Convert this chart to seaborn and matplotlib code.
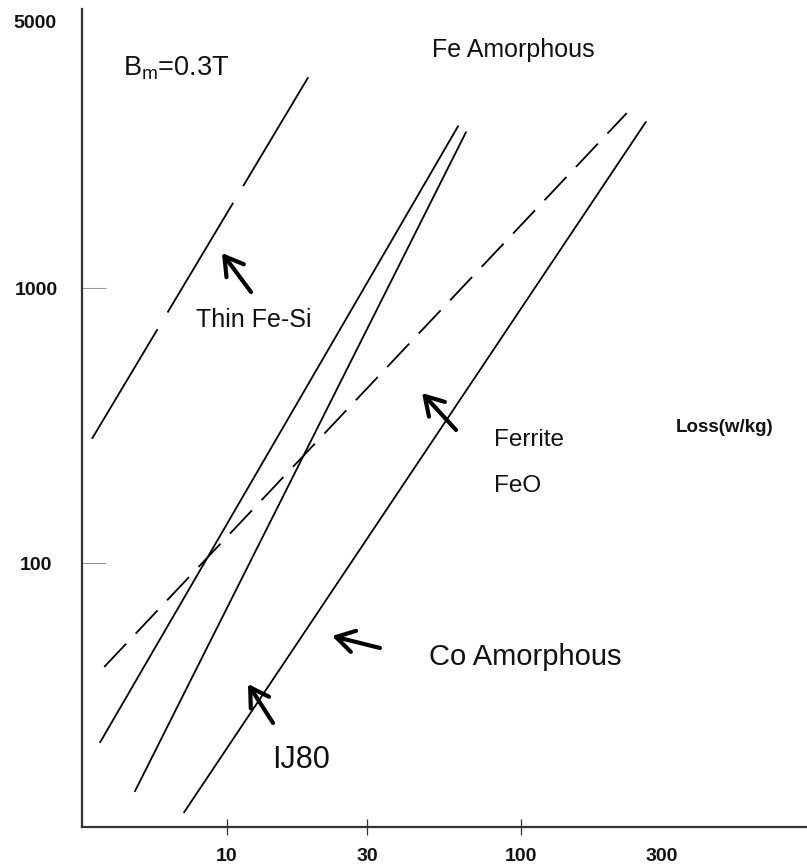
import matplotlib
matplotlib.use("Agg")
import matplotlib.pyplot as plt
import seaborn as sns
import pandas as pd

# ---------------- data ----------------
line_names = ["Thin Fe-Si", "Fe Amorphous", "IJ80", "Ferrite FeO", "Co Amorphous"]
x_start = [3.47, 3.70, 4.86, 3.82, 7.14]
x_end = [18.9, 61.1, 65.0, 229.0, 266.0]
y_start = [283.0, 22.3, 14.8, 41.9, 12.4]
y_end = [5850.0, 3880.0, 3690.0, 4330.0, 4020.0]

x_ticks = [10, 30, 100, 300]
x_tick_labels = ["10", "30", "100", "300"]
y_ticks = [100, 1000]
y_tick_labels = ["100", "1000"]

# ---------------- style ----------------
sns.set_theme(style="white")
plt.rcParams["font.family"] = ["Liberation Sans", "DejaVu Sans"]
plt.rcParams["mathtext.fontset"] = "custom"
plt.rcParams["mathtext.rm"] = "Liberation Sans"
plt.rcParams["mathtext.it"] = "Liberation Sans:italic"
plt.rcParams["lines.scale_dashes"] = False

W, H = 807, 868
fig = plt.figure(figsize=(W / 100, H / 100), dpi=100)
ax = fig.add_axes([82 / W, 1 - 827 / H, 1 - 82 / W, (827 - 9) / H])

rows = []
for n, x0, x1, y0, y1 in zip(line_names, x_start, x_end, y_start, y_end):
    rows.append({"name": n, "x": x0, "y": y0})
    rows.append({"name": n, "x": x1, "y": y1})
df = pd.DataFrame(rows)

styles = {
    "Thin Fe-Si": (0, (92, 14)),
    "Fe Amorphous": "-",
    "IJ80": "-",
    "Ferrite FeO": (0, (23, 10)),
    "Co Amorphous": "-",
}
for n in line_names:
    sub = df[df["name"] == n]
    sns.lineplot(data=sub, x="x", y="y", ax=ax, color="black", lw=1.3,
                 linestyle=styles[n], sort=True, legend=False)

ax.set_xscale("log")
ax.set_yscale("log")
ax.set_xlim(3.21, 940)
ax.set_ylim(10.97, 10350)
ax.set_xlabel("")
ax.set_ylabel("")

ax.set_xticks(x_ticks)
ax.set_xticklabels(x_tick_labels)
ax.set_yticks(y_ticks)
ax.set_yticklabels(y_tick_labels)
ax.minorticks_off()

for s in ["top", "right"]:
    ax.spines[s].set_visible(False)
for s in ["left", "bottom"]:
    ax.spines[s].set_color("#333333")
    ax.spines[s].set_linewidth(1.6)

ax.tick_params(axis="x", which="major", bottom=True, direction="inout", length=12,
               width=0.9, color="#333333", pad=9, labelsize=14, labelcolor="#111111")
ax.tick_params(axis="y", which="major", left=True, direction="in", length=17,
               width=0.8, color="#999999", pad=33, labelsize=14, labelcolor="#111111")
for lab in ax.get_yticklabels():
    lab.set_horizontalalignment("center")
    lab.set_fontweight("bold")
for lab in ax.get_xticklabels():
    lab.set_fontweight("bold")
ax.xaxis.get_major_ticks()[3].tick1line.set_visible(False)
ax.xaxis.get_major_ticks()[3].tick2line.set_visible(False)


def fp(x, y):
    return (x / W, 1 - y / H)


# top "5000" label
fig.text(*fp(35, 24), "5000", ha="center", va="center", fontsize=14,
         fontweight="bold", color="#111111")

txt = dict(color="#111111")
fig.text(*fp(513, 50), "Fe Amorphous", ha="center", va="center", fontsize=18, **txt)
fig.text(*fp(176, 68), r"B$_{\rm m}$=0.3T", ha="center", va="center", fontsize=19.5, **txt)
fig.text(*fp(254, 320), "Thin Fe-Si", ha="center", va="center", fontsize=18, **txt)
fig.text(*fp(494, 440), "Ferrite", ha="left", va="center", fontsize=17.5, **txt)
fig.text(*fp(494, 486), "FeO", ha="left", va="center", fontsize=17.5, **txt)
fig.text(*fp(725, 427), "Loss(w/kg)", ha="center", va="center", fontsize=13.5,
         fontweight="bold", **txt)
fig.text(*fp(525, 657), "Co Amorphous", ha="center", va="center", fontsize=21, **txt)
fig.text(*fp(301, 760), "IJ80", ha="center", va="center", fontsize=22, **txt)

arrows = [((251, 292), (222, 253)),
          ((456, 430), (422, 393)),
          ((380, 648), (332, 636)),
          ((273, 723), (248, 684))]
for tail, tip in arrows:
    ax.annotate("", xy=fp(*tip), xycoords="figure fraction",
                xytext=fp(*tail), textcoords="figure fraction",
                arrowprops=dict(arrowstyle="->,head_length=0.5,head_width=0.3",
                                mutation_scale=26, lw=3.0, color="black",
                                shrinkA=0, shrinkB=0))

fig.savefig("out.png", dpi=100)
